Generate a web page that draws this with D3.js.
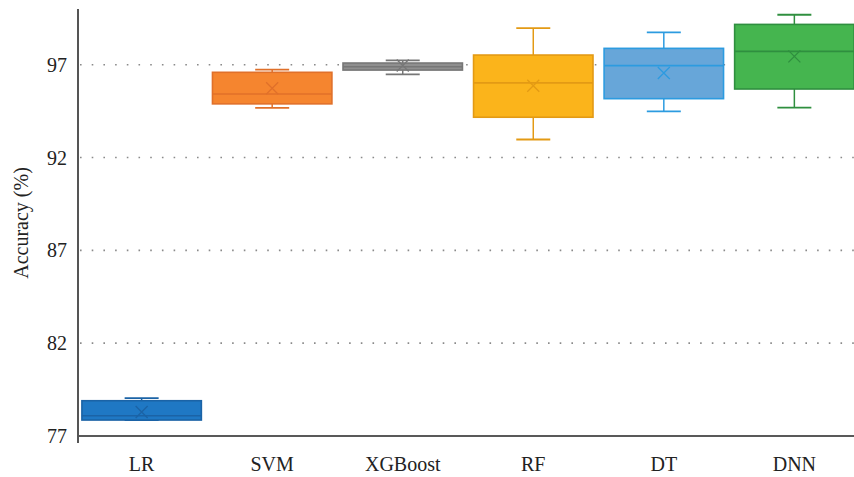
<!DOCTYPE html>
<html>
<head>
<meta charset="utf-8">
<script src="https://cdn.jsdelivr.net/npm/d3@7/dist/d3.min.js"></script>
<style>
  html, body { margin: 0; padding: 0; background: #fff; }
  svg { display: block; }
  text { font-family: "Liberation Serif", "Times New Roman", serif; fill: #222; }
</style>
</head>
<body>
<svg id="chart" width="854" height="477"></svg>
<script>
// Model accuracy distributions (%)
const models   = ["LR", "SVM", "XGBoost", "RF", "DT", "DNN"];
const minVals  = [77.86, 94.67, 96.48, 92.97, 94.49, 94.69];
const q1Vals   = [77.86, 94.89, 96.71, 94.17, 95.17, 95.69];
const medVals  = [78.09, 95.42, 96.89, 96.02, 96.95, 97.72];
const q3Vals   = [78.90, 96.59, 97.09, 97.52, 97.88, 99.17];
const maxVals  = [79.04, 96.73, 97.23, 98.97, 98.74, 99.69];
const meanVals = [78.29, 95.73, 96.96, 95.87, 96.55, 97.45];
const yTicks   = [77, 82, 87, 92, 97];

const fills   = ["#1f78c4", "#f5852f", "#8f8f8f", "#fbb41b", "#67a6d9", "#45b54f"];
const strokes = ["#1b63a6", "#e0702a", "#777777", "#e39a14", "#2c9be0", "#2f8f3f"];

const svg = d3.select("#chart");
const W = 854, H = 477;
const plotLeft = 78, plotTop = 9, plotBottom = 436;

const y = d3.scaleLinear().domain([77, 100]).range([plotBottom, plotTop]);
const x = d3.scaleBand().domain(models).range([plotLeft, 858])
  .paddingInner(0.085).paddingOuter(0.03);

// dotted gridlines
svg.append("g").selectAll("line")
  .data(yTicks.filter(t => t > 77))
  .join("line")
  .attr("x1", plotLeft + 2).attr("x2", W)
  .attr("y1", d => y(d)).attr("y2", d => y(d))
  .attr("stroke", "#8a8a8a").attr("stroke-width", 1.6)
  .attr("stroke-dasharray", "1.6,10.1");

// y tick labels
svg.append("g").selectAll("text")
  .data(yTicks)
  .join("text")
  .attr("x", 67).attr("y", d => y(d))
  .attr("dy", "0.35em")
  .attr("text-anchor", "end")
  .attr("font-size", 20)
  .text(d => d);

// y axis title
svg.append("text")
  .attr("transform", "translate(28,223) rotate(-90)")
  .attr("text-anchor", "middle")
  .attr("font-size", 20)
  .text("Accuracy (%)");

const data = models.map((m, i) => ({
  m, i, min: minVals[i], q1: q1Vals[i], med: medVals[i],
  q3: q3Vals[i], max: maxVals[i], mean: meanVals[i]
}));

const bw = x.bandwidth();
const capW = 34;
const g = svg.append("g").selectAll("g").data(data).join("g");

// whiskers
g.append("line")
  .attr("x1", d => x(d.m) + bw / 2).attr("x2", d => x(d.m) + bw / 2)
  .attr("y1", d => y(d.q3)).attr("y2", d => y(d.max))
  .attr("stroke", d => strokes[d.i]).attr("stroke-width", 1.5);
g.append("line")
  .attr("x1", d => x(d.m) + bw / 2).attr("x2", d => x(d.m) + bw / 2)
  .attr("y1", d => y(d.q1)).attr("y2", d => y(d.min))
  .attr("stroke", d => strokes[d.i]).attr("stroke-width", 1.5);
["max", "min"].forEach(k => {
  g.append("line")
    .attr("x1", d => x(d.m) + bw / 2 - capW / 2)
    .attr("x2", d => x(d.m) + bw / 2 + capW / 2)
    .attr("y1", d => y(d[k])).attr("y2", d => y(d[k]))
    .attr("stroke", d => strokes[d.i]).attr("stroke-width", 1.8);
});

// boxes
g.append("rect")
  .attr("x", d => x(d.m)).attr("width", bw)
  .attr("y", d => y(d.q3))
  .attr("height", d => Math.max(1, y(d.q1) - y(d.q3)))
  .attr("fill", d => fills[d.i])
  .attr("stroke", d => strokes[d.i]).attr("stroke-width", 1.6);

// medians
g.append("line")
  .attr("x1", d => x(d.m)).attr("x2", d => x(d.m) + bw)
  .attr("y1", d => y(d.med)).attr("y2", d => y(d.med))
  .attr("stroke", d => strokes[d.i]).attr("stroke-width", 1.6);

// mean markers
const r = 6;
g.append("path")
  .attr("d", d => {
    const cx = x(d.m) + bw / 2, cy = y(d.mean);
    return `M${cx - r},${cy - r}L${cx + r},${cy + r}M${cx - r},${cy + r}L${cx + r},${cy - r}`;
  })
  .attr("stroke", d => strokes[d.i]).attr("stroke-width", 1.3)
  .attr("fill", "none");

// axis lines
svg.append("line")
  .attr("x1", plotLeft).attr("x2", W)
  .attr("y1", plotBottom).attr("y2", plotBottom)
  .attr("stroke", "#222").attr("stroke-width", 1.6);
svg.append("line")
  .attr("x1", plotLeft).attr("x2", plotLeft)
  .attr("y1", plotTop).attr("y2", 443)
  .attr("stroke", "#555").attr("stroke-width", 2);

// category labels
svg.append("g").selectAll("text")
  .data(models)
  .join("text")
  .attr("x", d => x(d) + bw / 2)
  .attr("y", 471)
  .attr("text-anchor", "middle")
  .attr("font-size", 20)
  .text(d => d);
</script>
</body>
</html>
